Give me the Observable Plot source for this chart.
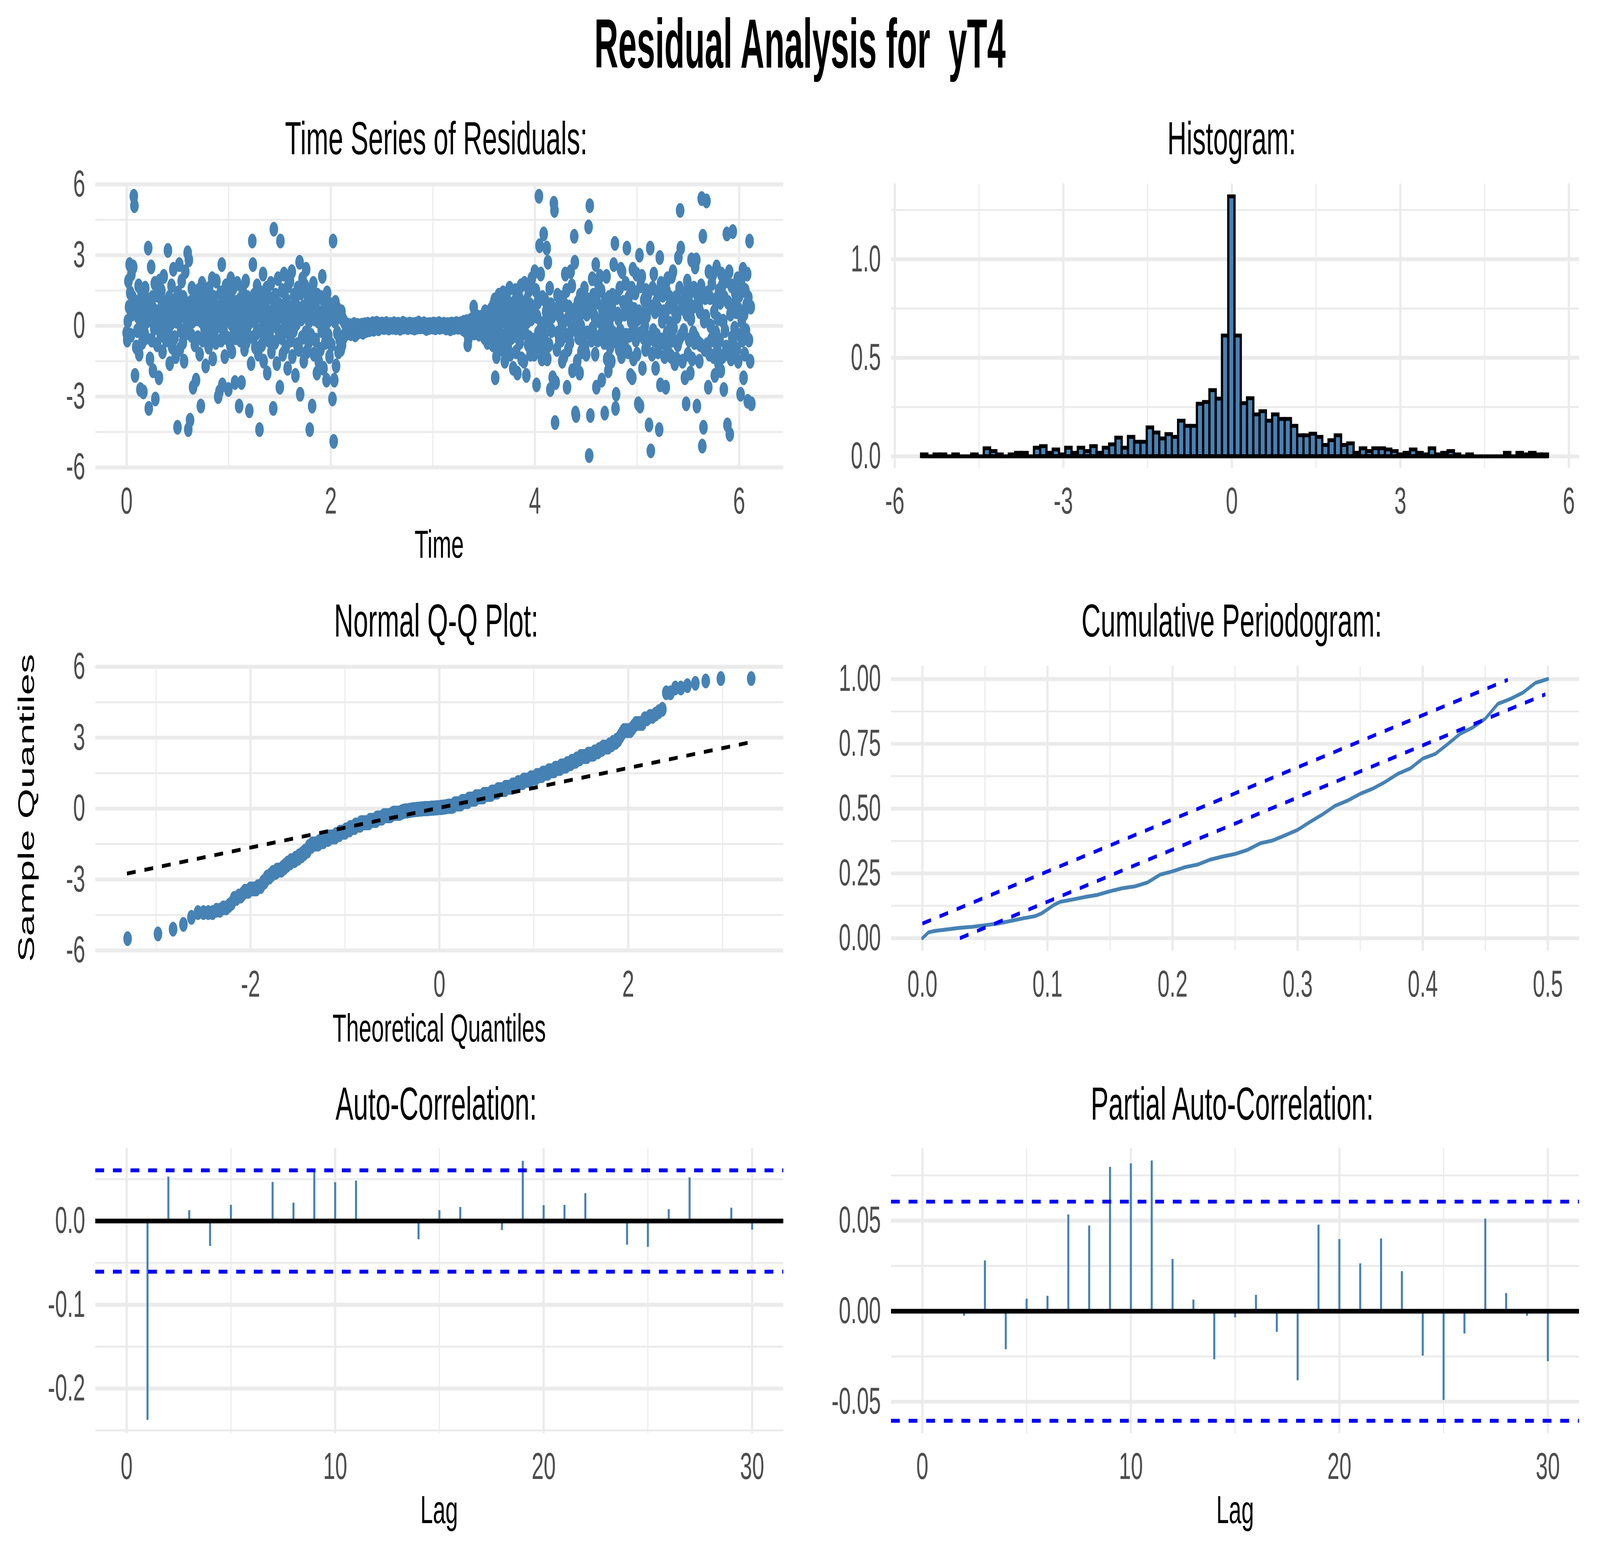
<!DOCTYPE html>
<html><head><meta charset="utf-8">
<script src="https://cdn.jsdelivr.net/npm/d3@7"></script>
<script src="https://cdn.jsdelivr.net/npm/@observablehq/plot@0.6"></script>
<style>
html,body{margin:0;padding:0;background:#fff;overflow:hidden;}
#wrap{position:relative;overflow:hidden;background:#fff;}
#page{position:absolute;left:0;top:0;width:7086px;height:4015px;background:#fff;overflow:hidden;transform-origin:0 0;}
#page svg{position:absolute;}
</style></head><body><div id="wrap"><div id="page"></div></div>
<script>
// ---------------- DATA ----------------
const mainTitle = "Residual Analysis for  yT4";
const panelTitles = ["Time Series of Residuals:", "Histogram:", "Normal Q-Q Plot:", "Cumulative Periodogram:", "Auto-Correlation:", "Partial Auto-Correlation:"];
const axisTitles = {ts: "Time", qqX: "Theoretical Quantiles", qqY: "Sample Quantiles", lag: "Lag"};

// residual series (time order), sampled evenly from tStart to tEnd
const tStart = 0, tEnd = 6.12;
const residuals = [
-0.3,-0.6,0.2,1.9,0.8,2.6,1.4,-0.4,2.2,0.5,1.2,2.5,5.5,5.1,-2.1,0.7,-0.9,
1.0,-0.2,0.4,1.7,-1.2,0.6,-2.7,0.1,1.4,-0.7,0.3,-2.8,0.9,-0.3,1.6,-0.5,0.8,
0.2,1.1,3.3,-3.5,0.5,-1.4,0.3,2.5,-0.6,1.2,-1.9,0.7,-0.1,1.8,-3.1,0.4,0.0,
-0.8,1.3,0.6,-2.2,1.9,0.2,-0.4,1.5,0.9,-1.1,0.4,2.1,-0.2,0.7,1.0,-0.6,0.3,
0.5,3.2,-0.3,1.2,-1.6,0.8,0.1,1.7,-0.9,0.4,2.4,0.6,-0.5,1.1,-1.3,0.2,0.9,
-4.3,1.4,0.3,2.6,-1.0,0.7,-0.2,1.9,0.5,-0.7,1.2,-1.5,0.4,2.3,-0.3,0.8,0.1,
3.1,-4.4,2.8,0.6,-4.0,1.0,-0.4,1.6,0.2,-2.6,0.9,1.3,-0.8,0.5,-2.3,0.3,1.1,
-0.5,1.5,0.4,-1.2,0.8,-3.4,0.2,1.8,-0.6,0.6,1.1,-0.1,0.9,-1.7,0.3,1.4,-0.3,
0.7,-0.9,1.6,0.1,-0.4,1.0,0.5,2.0,-1.4,0.3,1.2,-0.2,0.6,-0.7,1.9,0.4,0.0,
-3.0,0.8,-2.8,0.3,1.4,-0.6,2.6,-2.5,0.5,-0.2,1.1,-1.3,0.2,1.7,-0.5,0.9,0.4,
-2.7,0.6,1.3,-0.8,2.0,0.1,-1.1,0.7,1.6,-0.3,0.4,-2.4,1.0,-0.5,0.3,1.8,-0.1,
0.5,-3.4,1.1,-0.6,0.8,-2.4,0.3,1.5,-0.2,0.9,-1.0,0.2,1.9,-0.7,0.6,1.2,-0.4,
0.1,-3.6,1.0,0.4,-1.6,0.7,3.6,2.6,-0.5,1.3,0.2,-0.9,0.8,-0.3,1.7,0.5,-1.2,
0.6,-4.4,0.9,-0.2,1.4,-0.8,0.3,2.2,-1.5,0.5,1.0,-0.4,0.7,1.6,-2.0,0.1,-0.6,
1.2,-0.3,0.4,1.8,-1.1,0.6,0.2,-3.5,4.1,0.8,-0.7,1.3,0.0,-1.6,0.5,2.0,-0.2,
0.9,-2.6,3.6,0.4,-0.5,1.5,-1.2,0.7,2.2,-0.1,0.5,-0.9,1.1,0.3,-1.8,1.7,-0.3,
0.6,1.9,-0.6,0.2,2.3,-1.3,0.8,-0.2,1.3,0.4,-2.1,0.9,0.1,-0.8,1.6,0.5,-1.0,
2.7,-2.9,1.4,0.3,-0.5,2.0,0.8,-1.5,0.5,1.7,-0.3,2.4,-1.1,0.6,1.2,-0.7,0.2,
-4.4,0.9,-0.4,1.5,-3.4,0.6,1.8,-1.2,0.3,1.1,-0.6,0.7,-2.0,1.3,0.2,-1.5,0.5,
0.4,-1.0,1.2,-0.2,2.1,0.6,-1.8,0.1,0.9,-0.7,0.5,-2.3,1.4,0.2,-0.4,0.8,-1.3,
0.3,0.9,-0.8,0.5,-3.1,3.6,-4.9,-2.3,0.2,1.0,-1.7,0.6,-0.3,0.7,-1.1,0.4,-0.6,
0.5,-1.0,0.6,-0.8,0.3,-0.5,0.2,-0.4,0.1,-0.35,-0.25,0.05,-0.3,-0.2,0.02,-0.22,-0.12,
-0.2,-0.33,0.0,-0.27,-0.12,-0.3,0.06,-0.22,-0.38,-0.05,-0.17,-0.3,0.02,-0.14,-0.24,-0.08,-0.19,
-0.11,-0.23,0.03,-0.17,-0.27,-0.06,-0.14,0.05,-0.2,-0.09,-0.02,-0.18,0.07,-0.12,-0.04,-0.16,0.01,
-0.07,0.04,-0.11,0.09,-0.03,-0.14,0.02,0.07,-0.09,-0.01,0.11,-0.05,0.03,-0.12,0.0,0.06,-0.04,
0.02,-0.04,0.08,-0.01,0.05,-0.07,0.03,0.0,-0.03,0.1,-0.05,0.01,0.04,-0.09,0.02,-0.02,0.06,
-0.01,0.03,-0.06,0.04,0.0,0.09,-0.03,0.02,-0.08,0.05,-0.02,0.01,0.07,-0.04,0.03,-0.1,0.0,
0.04,-0.02,0.01,0.11,-0.05,0.02,-0.01,0.06,-0.03,0.0,0.04,-0.07,0.03,-0.02,0.08,0.01,-0.04,
0.02,-0.06,0.05,-0.01,0.03,-0.09,0.0,0.07,-0.03,0.02,-0.05,0.04,0.12,-0.02,0.01,-0.04,0.06,
-0.03,0.01,0.05,-0.02,0.09,-0.06,0.03,0.0,-0.11,0.04,-0.01,0.02,-0.07,0.06,-0.03,0.01,0.05,
0.0,-0.05,0.03,0.08,-0.02,0.04,-0.08,0.01,0.06,-0.03,0.02,-0.01,0.1,-0.06,0.03,-0.02,0.04,
-0.04,0.02,-0.01,0.07,-0.03,0.05,0.0,-0.09,0.03,-0.02,0.06,0.01,-0.05,0.04,-0.12,0.02,0.08,
0.01,-0.03,0.06,-0.07,0.02,0.04,-0.01,0.1,-0.04,0.03,-0.06,0.0,0.05,-0.02,0.09,-0.05,0.02,
0.05,-0.12,0.15,-0.06,0.1,-0.2,0.03,0.18,-0.1,-0.8,-0.55,0.08,-0.15,0.22,-0.04,0.12,-0.25,
0.3,-0.1,0.8,-0.3,0.15,0.05,-0.2,0.4,-0.08,0.25,0.1,-0.35,0.02,0.35,-0.15,0.2,-0.05,
0.4,-0.3,0.2,-0.5,0.6,0.1,-0.2,0.3,-0.7,0.0,0.5,-0.4,0.2,-0.1,0.7,-0.3,0.1,
-0.8,0.9,-0.2,1.1,-2.2,0.4,-1.3,0.6,0.1,-0.5,1.3,-0.9,0.3,0.8,-0.4,0.2,-1.0,
1.4,-0.6,0.5,-1.5,0.9,0.2,-0.3,1.1,-0.9,0.7,-0.1,1.6,-1.2,0.4,-0.5,0.8,0.0,
-1.8,0.6,1.0,-0.4,1.5,-1.1,0.3,-2.0,0.8,-0.2,1.2,-0.7,0.5,1.7,-1.4,0.1,0.9,
0.7,-1.5,1.8,-0.3,0.4,-2.1,1.1,0.2,-0.8,1.5,-0.5,0.9,-1.2,0.3,2.0,-0.6,0.5,
0.8,-1.2,2.3,-0.6,1.5,-2.5,0.4,1.0,-0.3,5.5,3.4,-0.9,2.2,0.1,-1.4,1.2,-0.2,
3.9,-0.5,1.1,-1.0,0.6,3.3,-1.4,2.7,0.2,-0.8,1.6,-2.7,0.9,-0.2,0.4,-2.2,0.5,
5.2,4.9,-4.1,-2.4,0.7,-1.0,1.3,-0.3,0.5,-0.6,0.4,1.2,-0.6,0.2,-1.5,0.1,0.9,
-1.3,0.9,2.2,-0.4,1.5,-2.6,0.3,-1.0,0.8,0.6,-0.7,2.3,-0.2,1.7,-1.9,0.5,-0.1,
3.8,2.7,-3.7,-3.8,0.8,-1.5,1.0,-0.5,0.3,-2.0,1.3,0.0,-1.1,0.6,-0.7,0.9,-0.3,
1.6,-0.9,0.7,-1.2,0.5,-0.3,1.1,4.2,-5.5,5.1,-3.8,0.7,-0.6,2.0,-0.1,1.3,-0.4,
0.4,-1.2,2.6,-2.6,1.0,-0.6,1.8,-0.5,0.2,2.1,-0.4,1.5,-2.3,0.7,-0.2,0.3,-0.7,
-3.7,1.1,-0.5,2.1,-1.4,0.6,-1.9,1.2,0.0,-0.9,0.4,-1.5,0.8,1.3,-0.3,2.6,-0.6,
3.5,-3.5,-2.9,1.2,-0.7,0.5,0.3,-1.0,1.6,-0.2,2.4,-1.3,2.3,-0.5,1.0,-0.4,0.5,
-0.9,1.8,-0.4,3.3,0.6,-1.1,1.2,-0.4,0.8,-2.1,0.2,1.6,-2.2,2.4,-1.4,0.7,-0.2,
1.4,-0.6,2.2,-1.2,0.3,-3.3,0.6,3.0,-3.4,1.7,-0.3,2.1,-1.8,0.5,-0.5,1.1,0.0,
-1.0,1.5,0.4,-0.7,1.3,-0.5,-4.2,0.8,3.3,-5.3,0.8,-1.2,1.6,-0.2,2.2,-0.6,0.6,
-1.8,1.0,-0.4,1.4,-1.1,0.7,-4.4,2.9,-2.5,1.8,-0.6,0.2,1.3,-0.7,0.6,-1.3,0.4,
-2.6,1.5,-0.3,2.0,-1.1,0.8,-0.5,1.2,0.1,-1.3,2.1,-0.6,2.3,-0.1,0.7,-1.6,0.6,
1.2,-1.4,0.4,-0.8,2.9,-0.6,1.6,4.9,3.3,-0.4,1.0,-1.5,0.8,-0.2,0.7,-2.2,1.4,
-3.3,0.5,1.9,-1.2,1.1,-0.6,1.4,-2.0,0.3,2.8,-1.4,0.8,-0.3,1.6,-0.7,2.5,-0.5,
2.8,-3.4,1.3,-0.7,0.9,-1.5,0.6,-0.8,1.7,5.4,-5.1,3.8,-4.3,0.2,-1.0,1.2,0.4,
5.3,-0.8,1.4,-2.6,2.3,-1.2,1.2,0.0,-0.6,1.8,-0.5,2.2,-1.3,0.6,-2.1,1.1,-0.3,
2.5,-1.0,0.3,-1.6,1.5,-0.6,1.0,-1.9,2.2,1.7,-1.3,0.2,-2.7,1.2,-0.2,1.9,-0.9,
3.9,-4.2,1.0,-1.2,2.3,-4.6,0.5,-1.4,1.7,-0.5,4.0,-0.8,0.9,-0.1,1.4,-1.0,0.6,
-1.0,2.0,-1.5,0.7,1.3,-0.4,-2.9,1.8,0.2,-0.6,2.4,-2.2,0.5,-1.2,1.5,-0.2,0.9,
2.2,-3.2,1.2,-0.6,3.6,-1.5,0.8,-3.3
];

// histogram: 100 bins starting at histStart, width histBinWidth, densities
const histStart = -5.53, histBinWidth = 0.1116;
const histDensity = [
0.009,0,0.009,0.009,0,0.009,0,0,0.009,0,
0.040,0.026,0.009,0,0.009,0.017,0.017,0,0.043,0.051,
0.017,0.034,0.009,0.043,0.017,0.043,0.026,0.051,0.017,0.043,
0.060,0.094,0.043,0.098,0.073,0.073,0.146,0.120,0.090,0.112,
0.098,0.180,0.154,0.154,0.266,0.275,0.335,0.292,0.612,1.318,
0.612,0.269,0.294,0.212,0.228,0.180,0.212,0.189,0.189,0.154,
0.106,0.106,0.114,0.098,0.057,0.081,0.106,0.057,0.065,0.017,
0.040,0.026,0.040,0.040,0.034,0.026,0.009,0.017,0.034,0.017,
0.009,0.040,0.009,0.017,0.026,0.009,0,0.009,0,0,
0,0,0,0.017,0,0.017,0.009,0.017,0.009,0.009
];

// Q-Q reference line
const qqLineX = [-3.31, 3.31];
const qqLineY = [-2.75, 2.82];

// cumulative periodogram
const cpFreq = [0,0.005,0.01,0.02,0.03,0.04,0.05,0.06,0.07,0.08,0.09,0.095,0.1,0.105,0.11,0.12,0.13,0.14,0.15,0.16,0.17,0.18,0.19,0.2,0.21,0.22,0.23,0.24,0.25,0.26,0.27,0.28,0.29,0.3,0.31,0.32,0.33,0.34,0.35,0.36,0.37,0.38,0.39,0.4,0.41,0.42,0.43,0.44,0.45,0.46,0.47,0.48,0.49,0.5];
const cpCum  = [0,0.023,0.028,0.034,0.040,0.044,0.050,0.056,0.066,0.076,0.085,0.095,0.111,0.128,0.140,0.149,0.159,0.167,0.181,0.193,0.200,0.215,0.245,0.258,0.274,0.284,0.303,0.315,0.325,0.341,0.366,0.377,0.397,0.418,0.449,0.478,0.511,0.531,0.557,0.577,0.603,0.634,0.655,0.693,0.711,0.749,0.789,0.813,0.847,0.904,0.923,0.947,0.985,1.0];
const cpUpperX = [0, 0.468], cpUpperY = [0.0565, 0.997];
const cpLowerX = [0.030, 0.498], cpLowerY = [0, 0.941];

// ACF / PACF
const acfLag = [1,2,3,4,5,6,7,8,9,10,11,12,13,14,15,16,17,18,19,20,21,22,23,24,25,26,27,28,29,30];
const acfValue = [-0.2375,0.0528,0.0127,-0.030,0.019,0.0005,0.0464,0.0217,0.0603,0.046,0.048,0.0,0.0015,-0.022,0.0127,0.0165,0.0,-0.011,0.0715,0.0187,0.019,0.033,0.0,-0.0285,-0.031,0.0139,0.0517,0.0,0.0157,-0.0105];
const acfBound = 0.0605;
const pacfLag = [2,3,4,5,6,7,8,9,10,11,12,13,14,15,16,17,18,19,20,21,22,23,24,25,26,27,28,29,30];
const pacfValue = [-0.0026,0.0279,-0.0211,0.0068,0.0084,0.0533,0.0472,0.0796,0.0815,0.0831,0.0287,0.0063,-0.0267,-0.0035,0.0089,-0.0115,-0.0383,0.0477,0.0397,0.0263,0.0401,0.022,-0.0246,-0.0491,-0.0124,0.051,0.0099,-0.0026,-0.0277];
const pacfBound = 0.0605;

// tick values
const tsXTicks = [0,2,4,6], tsXMinor = [1,3,5];
const sixTicks = [-6,-3,0,3,6], sixMinor = [-4.5,-1.5,1.5,4.5];
const qqXTicks = [-2,0,2], qqXMinor = [-3,-1,1,3];
const histYTicks = [0,0.5,1], histYMinor = [0.25,0.75,1.25];
const cpXTicks = [0,0.1,0.2,0.3,0.4,0.5], cpXMinor = [0.05,0.15,0.25,0.35,0.45];
const cpYTicks = [0,0.25,0.5,0.75,1], cpYMinor = [0.125,0.375,0.625,0.875];
const lagTicks = [0,10,20,30], lagMinor = [5,15,25];
const acfYTicks = [-0.2,-0.1,0], acfYMinor = [-0.25,-0.15,-0.05,0.05];
const pacfYTicks = [-0.05,0,0.05], pacfYMinor = [-0.025,0.025,0.075];

// ---------------- DERIVED TABLES ----------------
const STEEL = "#4682B4";
const n = residuals.length;
const dt = (tEnd - tStart) / (n - 1);
const tsTable = residuals.map((v, i) => ({time: tStart + i * dt, value: v}));

function qnorm(p) {
  const a=[-3.969683028665376e+01,2.209460984245205e+02,-2.759285104469687e+02,1.383577518672690e+02,-3.066479806614716e+01,2.506628277459239e+00];
  const b=[-5.447609879822406e+01,1.615858368580409e+02,-1.556989798598866e+02,6.680131188771972e+01,-1.328068155288572e+01];
  const c=[-7.784894002430293e-03,-3.223964580411365e-01,-2.400758277161838e+00,-2.549732539343734e+00,4.374664141464968e+00,2.938163982698783e+00];
  const d=[7.784695709041462e-03,3.224671290700398e-01,2.445134137142996e+00,3.754408661907416e+00];
  const pl = 0.02425;
  if (p < pl) { const q = Math.sqrt(-2*Math.log(p)); return (((((c[0]*q+c[1])*q+c[2])*q+c[3])*q+c[4])*q+c[5])/((((d[0]*q+d[1])*q+d[2])*q+d[3])*q+1); }
  if (p > 1-pl) { const q = Math.sqrt(-2*Math.log(1-p)); return -(((((c[0]*q+c[1])*q+c[2])*q+c[3])*q+c[4])*q+c[5])/((((d[0]*q+d[1])*q+d[2])*q+d[3])*q+1); }
  const q = p-0.5, r = q*q;
  return (((((a[0]*r+a[1])*r+a[2])*r+a[3])*r+a[4])*r+a[5])*q/(((((b[0]*r+b[1])*r+b[2])*r+b[3])*r+b[4])*r+1);
}
const sortedRes = residuals.slice().sort((a, b) => a - b);
const qqTable = sortedRes.map((v, i) => ({theo: qnorm((i + 0.5) / n), sample: v}));
const qqLine = qqLineX.map((x, i) => ({x, y: qqLineY[i]}));

const histTable = histDensity.map((dens, i) => ({x1: histStart + i * histBinWidth, x2: histStart + (i + 1) * histBinWidth, density: dens}));
const histEnd = histStart + histDensity.length * histBinWidth;

const cpTable = cpFreq.map((f, i) => ({f, v: cpCum[i]}));
const cpUpper = cpUpperX.map((x, i) => ({x, y: cpUpperY[i]}));
const cpLower = cpLowerX.map((x, i) => ({x, y: cpLowerY[i]}));

const acfTable = acfLag.map((l, i) => ({lag: l, value: acfValue[i]}));
const pacfTable = pacfLag.map((l, i) => ({lag: l, value: pacfValue[i]}));

// ---------------- DRAW ----------------
// design space is 7086 x 4015; it is mapped onto whatever window the page gets
const W = 7086, H = 4015;
const page = document.getElementById("page");
const wrap = document.getElementById("wrap");
const vw = window.innerWidth || W, vh = window.innerHeight || H;
const sx = vw / W, sy = vh / H;
page.style.transform = `scale(${sx}, ${sy})`;
wrap.style.width = vw + "px";
wrap.style.height = vh + "px";

const GRID = "#EBEBEB", MAJ = 9.9, MIN = 4.9, LW = 9.9;
const fmtInt = d => String(d);
const fmt1 = d => (Math.abs(d) < 1e-9 ? 0 : d).toFixed(1);
const fmt2 = d => (Math.abs(d) < 1e-9 ? 0 : d).toFixed(2);

function panel(o) {
  const svg = Plot.plot({
    width: o.width, height: o.height,
    marginTop: o.mt, marginRight: o.mr, marginBottom: o.mb, marginLeft: o.ml,
    x: {domain: o.xDomain}, y: {domain: o.yDomain},
    style: {fontFamily: "'Liberation Sans', Arial, Helvetica, sans-serif", fontSize: "96px", color: "#4D4D4D", background: "none", overflow: "visible", maxWidth: "none"},
    marks: [
      Plot.ruleX(o.xMinor, {stroke: GRID, strokeWidth: MIN}),
      Plot.ruleY(o.yMinor, {stroke: GRID, strokeWidth: MIN}),
      Plot.ruleX(o.xTicks, {stroke: GRID, strokeWidth: MAJ}),
      Plot.ruleY(o.yTicks, {stroke: GRID, strokeWidth: MAJ}),
      ...o.marks,
      Plot.axisX({ticks: o.xTicks, tickFormat: o.xFmt, tickSize: 0, tickPadding: 48, label: null}),
      Plot.axisY({ticks: o.yTicks, tickFormat: o.yFmt, tickSize: 0, tickPadding: 45, label: null})
    ]
  });
  svg.style.left = o.left + "px";
  svg.style.top = o.top + "px";
  page.appendChild(svg);
}

// Time series
panel({left: 0, top: 400, width: 3543, height: 1000, mt: 70, mr: 74, mb: 202, ml: 422,
  xDomain: [-0.306, 6.434], yDomain: [-6.03, 6.03],
  xTicks: tsXTicks, xMinor: tsXMinor, yTicks: sixTicks, yMinor: sixMinor, xFmt: fmtInt, yFmt: fmtInt,
  marks: [Plot.dot(tsTable, {x: "time", y: "value", r: 19, fill: STEEL})]});

// Histogram
panel({left: 3543, top: 400, width: 3543, height: 1000, mt: 70, mr: 93, mb: 202, ml: 403,
  xDomain: [-6.066, 6.183], yDomain: [-0.0593, 1.383],
  xTicks: sixTicks, xMinor: sixMinor, yTicks: histYTicks, yMinor: histYMinor, xFmt: fmtInt, yFmt: fmt1,
  marks: [
    Plot.rect(histTable, {x1: "x1", x2: "x2", y1: 0, y2: "density", fill: STEEL, stroke: "black", strokeWidth: LW}),
    Plot.ruleY([0], {x1: histStart, x2: histEnd, stroke: "black", strokeWidth: LW})
  ]});

// Q-Q
panel({left: 0, top: 1650, width: 3543, height: 1000, mt: 55, mr: 74, mb: 215, ml: 422,
  xDomain: [-3.644, 3.644], yDomain: [-6.03, 6.03],
  xTicks: qqXTicks, xMinor: qqXMinor, yTicks: sixTicks, yMinor: sixMinor, xFmt: fmtInt, yFmt: fmtInt,
  marks: [
    Plot.dot(qqTable, {x: "theo", y: "sample", r: 19, fill: STEEL}),
    Plot.line(qqLine, {x: "x", y: "y", stroke: "black", strokeWidth: LW, strokeDasharray: "39,39", strokeLinecap: "butt"})
  ]});

// Cumulative periodogram
panel({left: 3543, top: 1650, width: 3543, height: 1000, mt: 55, mr: 93, mb: 215, ml: 403,
  xDomain: [-0.025, 0.525], yDomain: [-0.05, 1.05],
  xTicks: cpXTicks, xMinor: cpXMinor, yTicks: cpYTicks, yMinor: cpYMinor, xFmt: fmt1, yFmt: fmt2,
  marks: [
    Plot.line(cpTable, {x: "f", y: "v", stroke: STEEL, strokeWidth: LW}),
    Plot.line(cpUpper, {x: "x", y: "y", stroke: "blue", strokeWidth: LW, strokeDasharray: "39,39", strokeLinecap: "butt"}),
    Plot.line(cpLower, {x: "x", y: "y", stroke: "blue", strokeWidth: LW, strokeDasharray: "39,39", strokeLinecap: "butt"})
  ]});

// ACF
panel({left: 0, top: 2900, width: 3543, height: 1000, mt: 40, mr: 74, mb: 230, ml: 422,
  xDomain: [-1.5, 31.5], yDomain: [-0.2536, 0.0867],
  xTicks: lagTicks, xMinor: lagMinor, yTicks: acfYTicks, yMinor: acfYMinor, xFmt: fmtInt, yFmt: fmt1,
  marks: [
    Plot.ruleX(acfTable, {x: "lag", y1: 0, y2: "value", stroke: STEEL, strokeWidth: 9, strokeLinecap: "butt"}),
    Plot.ruleY([0], {stroke: "black", strokeWidth: 12}),
    Plot.ruleY([acfBound, -acfBound], {stroke: "blue", strokeWidth: LW, strokeDasharray: "39,39", strokeLinecap: "butt"})
  ]});

// PACF
panel({left: 3543, top: 2900, width: 3543, height: 1000, mt: 40, mr: 93, mb: 230, ml: 403,
  xDomain: [-1.5, 31.5], yDomain: [-0.0675, 0.0899],
  xTicks: lagTicks, xMinor: lagMinor, yTicks: pacfYTicks, yMinor: pacfYMinor, xFmt: fmtInt, yFmt: fmt2,
  marks: [
    Plot.ruleX(pacfTable, {x: "lag", y1: 0, y2: "value", stroke: STEEL, strokeWidth: 9, strokeLinecap: "butt"}),
    Plot.ruleY([0], {stroke: "black", strokeWidth: 12}),
    Plot.ruleY([pacfBound, -pacfBound], {stroke: "blue", strokeWidth: LW, strokeDasharray: "39,39", strokeLinecap: "butt"})
  ]});

// ---------------- TEXT OVERLAY ----------------
const ns = "http://www.w3.org/2000/svg";
const ov = document.createElementNS(ns, "svg");
ov.setAttribute("width", W); ov.setAttribute("height", H);
ov.style.left = "0px"; ov.style.top = "0px"; ov.style.pointerEvents = "none";
function txt(s, x, y, size, opt = {}) {
  const t = document.createElementNS(ns, "text");
  t.textContent = s;
  t.setAttribute("text-anchor", "middle");
  t.setAttribute("font-size", size);
  t.setAttribute("font-weight", opt.weight || "normal");
  t.setAttribute("font-family", "'Liberation Sans', Arial, Helvetica, sans-serif");
  t.setAttribute("fill", "#000");
  t.setAttribute("transform", `translate(${x},${y}) rotate(${opt.rotate || 0}) scale(${opt.sx || 1},1)`);
  t.style.whiteSpace = "pre";
  ov.appendChild(t);
}
txt(mainTitle, 3543, 173, 179, {weight: "bold", sx: 0.82});
txt(panelTitles[0], 1932, 395, 118);
txt(panelTitles[1], 5455, 395, 118);
txt(panelTitles[2], 1932, 1630, 118);
txt(panelTitles[3], 5455, 1630, 118);
txt(panelTitles[4], 1932, 2867, 118);
txt(panelTitles[5], 5457, 2867, 118);
txt(axisTitles.ts, 1945, 1428, 100);
txt(axisTitles.qqX, 1945, 2667, 100);
txt(axisTitles.lag, 1945, 3900, 100);
txt(axisTitles.lag, 5470, 3900, 100);
txt(axisTitles.qqY, 150, 2069, 100, {rotate: -90});
page.appendChild(ov);
</script></body></html>
